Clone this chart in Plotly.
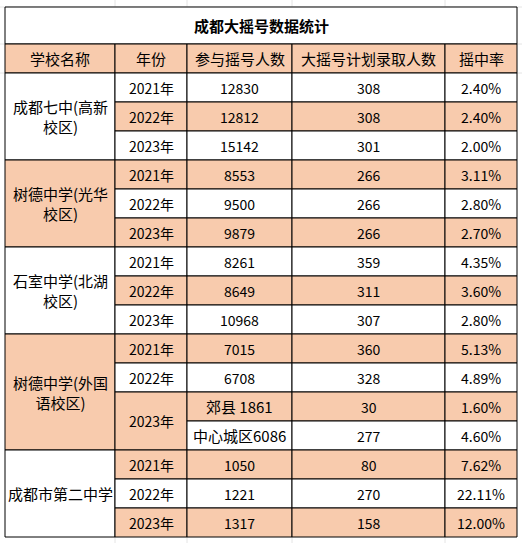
import plotly.graph_objects as go

title = "成都大摇号数据统计"
headers = ["学校名称", "年份", "参与摇号人数", "大摇号计划录取人数", "摇中率"]

# one entry per table row
schools = ["成都七中(高新<br>校区)", "树德中学(光华<br>校区)", "石室中学(北湖<br>校区)",
           "树德中学(外国<br>语校区)", "成都市第二中学"]
school_rows = [3, 3, 3, 4, 3]
school_fill = ["white", "peach", "white", "peach", "white"]
years = ["2021年", "2022年", "2023年"] * 3 + ["2021年", "2022年", "2023年", None] + ["2021年", "2022年", "2023年"]
applicants = ["12830", "12812", "15142", "8553", "9500", "9879", "8261", "8649", "10968",
              "7015", "6708", "郊县 1861", "中心城区6086", "1050", "1221", "1317"]
quota = ["308", "308", "301", "266", "266", "266", "359", "311", "307",
         "360", "328", "30", "277", "80", "270", "158"]
rates = ["2.40%", "2.40%", "2.00%", "3.11%", "2.80%", "2.70%", "4.35%", "3.60%", "2.80%",
         "5.13%", "4.89%", "1.60%", "4.60%", "7.62%", "22.11%", "12.00%"]
row_peach = [0, 1, 0, 1, 0, 1, 0, 1, 0, 1, 0, 1, 0, 1, 0, 1]

PEACH = "#F8CBAD"
cols = [5, 115, 187, 292, 445, 517]
top, title_h, head_h, row_h = 7, 37, 29, 29
font = "Noto Sans CJK SC, Microsoft YaHei, sans-serif"

shapes, ann = [], []

def cell(x0, x1, y0, y1, fill, text, size=14, bold=False):
    shapes.append(dict(type="rect", x0=x0, x1=x1, y0=y0, y1=y1, fillcolor=fill,
                       line=dict(color="black", width=1), layer="below"))
    if text:
        ann.append(dict(x=(x0 + x1) / 2, y=(y0 + y1) / 2, text=f"<b>{text}</b>" if bold else text,
                        showarrow=False, font=dict(size=size, color="black", family=font)))

# faint spreadsheet grid outside the table
for gx in [115, 187, 292, 445]:
    shapes.append(dict(type="line", x0=gx, x1=gx, y0=0, y1=543, line=dict(color="#e4e4e4", width=1), layer="below"))
for gy in [7, 44, 73]:
    shapes.append(dict(type="line", x0=0, x1=522, y0=gy, y1=gy, line=dict(color="#e4e4e4", width=1), layer="below"))

cell(cols[0], cols[5], top, top + title_h, "white", title, size=15, bold=True)
y = top + title_h
for i, h in enumerate(headers):
    cell(cols[i], cols[i + 1], y, y + head_h, PEACH, h, size=15)
y0 = y + head_h

r = 0
for s, n, f in zip(schools, school_rows, school_fill):
    cell(cols[0], cols[1], y0 + r * row_h, y0 + (r + n) * row_h, PEACH if f == "peach" else "white", s, size=15)
    r += n

for i in range(len(applicants)):
    ya, yb = y0 + i * row_h, y0 + (i + 1) * row_h
    fill = PEACH if row_peach[i] else "white"
    if years[i] is not None:
        span = 2 if (i + 1 < len(years) and years[i + 1] is None) else 1
        cell(cols[1], cols[2], ya, ya + span * row_h, fill, years[i])
    txt = applicants[i]
    cell(cols[2], cols[3], ya, yb, fill, txt, size=15 if "区" in txt or "县" in txt else 14)
    cell(cols[3], cols[4], ya, yb, fill, quota[i])
    cell(cols[4], cols[5], ya, yb, fill, rates[i])

fig = go.Figure()
fig.update_layout(width=522, height=543, margin=dict(l=0, r=0, t=0, b=0),
                  plot_bgcolor="white", paper_bgcolor="white",
                  shapes=shapes, annotations=ann, showlegend=False)
fig.update_xaxes(range=[0, 522], visible=False, fixedrange=True)
fig.update_yaxes(range=[543, 0], visible=False, fixedrange=True)
fig.write_html("out.html", config={"displayModeBar": False},
               post_script="document.body.style.margin='0';document.body.style.overflow='hidden';")
